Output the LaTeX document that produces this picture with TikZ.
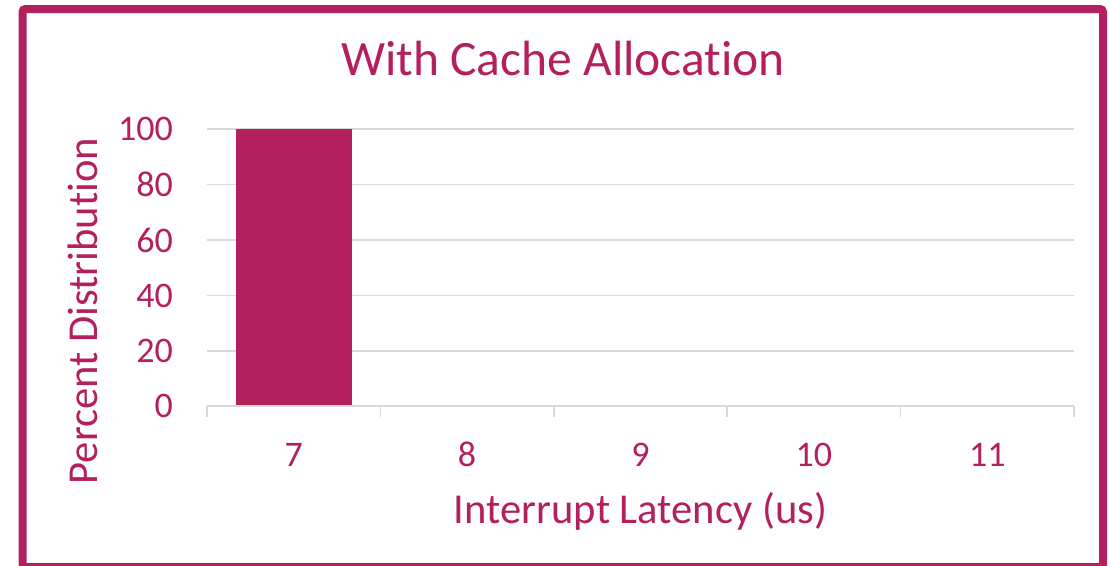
\documentclass[tikz,border=0pt]{standalone}
\usepackage{fontspec}
\setmainfont{Carlito}[RawFeature=-liga]
\definecolor{berry}{HTML}{B41F5E}
\definecolor{gridgray}{HTML}{D9D9D9}
\begin{document}
\begin{tikzpicture}[x=1pt,y=-1pt,
  frame/.style={draw=berry,line width=8pt,rounded corners=3pt},
  grid/.style={draw=gridgray,line width=1.6pt},
  bar/.style={fill=berry,draw=none},
  ticklbl/.style={text=berry,font=\fontsize{36}{40}\selectfont,inner sep=0pt},
  axtitle/.style={text=berry,font=\fontsize{42.6}{48}\selectfont,inner sep=0pt},
  charttitle/.style={text=berry,font=\fontsize{49.5}{56}\selectfont,inner sep=0pt}]
\useasboundingbox (0,0) rectangle (1110,565);
\begin{scope}
\clip (0,0) rectangle (1110,565);
\draw[frame] (22.5,9) rectangle (1103,567);
\end{scope}
% horizontal grid lines
\foreach \v/\y in {20/351,40/295.5,60/240,80/184.5,100/129}
  \draw[grid] (207,\y) -- (1074,\y);
% category axis with ticks
\draw[grid] (207,406) -- (1074,406);
\foreach \x in {207,380.4,553.8,727.2,900.6,1074}
  \draw[grid] (\x,406) -- (\x,417);
% bar for 7 us
\fill[bar] (236,129) rectangle (352,405);
% value labels
\foreach \v/\y in {0/406,20/351,40/295.5,60/240,80/184.5,100/129}
  \node[ticklbl,anchor=east] (y\v) at (173,\y) {\v};
% category labels
\foreach \c/\x in {7/293.7,8/467.1,9/640.5,10/813.9,11/987.3}
  \node[ticklbl,anchor=base] (c\c) at (\x,466) {\c};
\node[charttitle,anchor=base] (title) at (563,75) {With Cache Allocation};
\node[axtitle,anchor=base] (xt) at (640.5,523) {Interrupt Latency (us)};
\node[axtitle,anchor=base,rotate=90] (yt) at (97,311) {Percent Distribution};
\end{tikzpicture}
\end{document}
